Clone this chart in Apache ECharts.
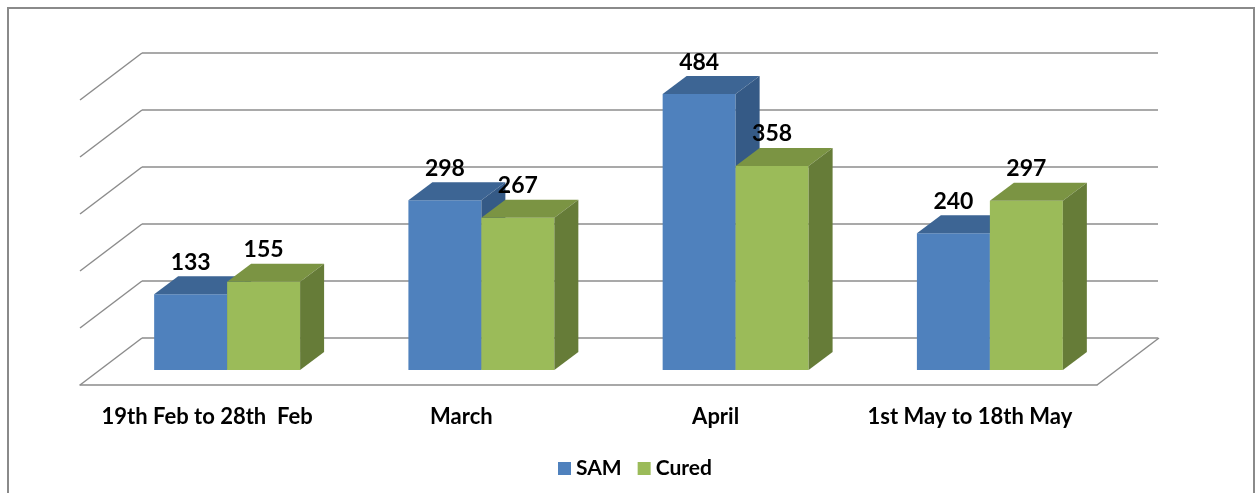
<!DOCTYPE html>
<html>
<head>
<meta charset="utf-8">
<script src="https://cdn.jsdelivr.net/npm/echarts@6/dist/echarts.min.js"></script>
<style>
  html, body { margin: 0; background: #fff; }
  #chart { width: 1257px; height: 493px; }
</style>
</head>
<body>
<div id="chart"></div>
<script>
// data
const categories = ['19th Feb to 28th  Feb', 'March', 'April', '1st May to 18th May'];
const seriesNames = ['SAM', 'Cured'];
const samValues = [133, 298, 484, 240];
const curedValues = [155, 267, 358, 297];
const gridValues = [0, 100, 200, 300, 400, 500];

const FONT = 'Lato';
const INK = '#000';
const GRID_LINE = '#8c8c8c';

// 3D look: floor depth front->back, and depth of each bar (pixels)
const DEPTH = [62, -47];
const BAR_DEPTH = [24, -18];
const BAR_FRAC = 0.287;

const FACES = [
  { front: '#4F81BD', top: '#3D6594', side: '#355A86' },
  { front: '#9BBB59', top: '#7B9443', side: '#667C38' },
];

const chart = echarts.init(document.getElementById('chart'), null, { renderer: 'canvas' });

const valueAxis = (gridIndex, split) => ({
  type: 'value', gridIndex, min: 0, max: 500, interval: 100,
  axisLine: { show: false }, axisTick: { show: false }, axisLabel: { show: false },
  splitLine: { show: split, lineStyle: { color: GRID_LINE, width: 1.5 } },
});

const hiddenCat = gridIndex => ({
  type: 'category', gridIndex, data: categories, show: false,
});

// side-wall obliques (and floor right edge) hang off the front floor grid
function sideWall(params, api) {
  const cs = params.coordSys;
  const y = api.coord([0, api.value(1)])[1];
  const lines = [{
    type: 'line',
    shape: { x1: cs.x, y1: y, x2: cs.x + DEPTH[0], y2: y + DEPTH[1] },
    style: { stroke: GRID_LINE, lineWidth: 1.5 },
  }];
  if (api.value(1) === 0) {
    const xr = cs.x + cs.width;
    lines.push({
      type: 'line',
      shape: { x1: xr, y1: y, x2: xr + DEPTH[0], y2: y + DEPTH[1] },
      style: { stroke: GRID_LINE, lineWidth: 1.5 },
    });
  }
  return { type: 'group', children: lines };
}

function bar3d(slot) {
  const f = FACES[slot];
  return (params, api) => {
    const idx = api.value(0), v = api.value(1);
    const top = api.coord([idx, v]);
    const base = api.coord([idx, 0]);
    const bw = api.size([1, 0])[0] * BAR_FRAC;
    const x0 = slot === 0 ? top[0] - bw : top[0];
    const x1 = x0 + bw;
    const [dx, dy] = BAR_DEPTH;
    return {
      type: 'group',
      children: [
        { type: 'rect', shape: { x: x0, y: top[1], width: bw, height: base[1] - top[1] }, style: { fill: f.front } },
        { type: 'polygon', shape: { points: [[x0, top[1]], [x0 + dx, top[1] + dy], [x1 + dx, top[1] + dy], [x1, top[1]]] }, style: { fill: f.top } },
        { type: 'polygon', shape: { points: [[x1, top[1]], [x1 + dx, top[1] + dy], [x1 + dx, base[1] + dy], [x1, base[1]]] }, style: { fill: f.side } },
        {
          type: 'text', x: x0 + bw / 2, y: top[1] - 32,
          style: { text: String(v), fill: INK, font: `bold 23px ${FONT}`, align: 'center', verticalAlign: 'middle' },
        },
      ],
    };
  };
}

chart.setOption({
  animation: false,
  textStyle: { fontFamily: FONT },
  graphic: [{
    type: 'rect', z: -10,
    shape: { x: 8, y: 8, width: 1246, height: 500 },
    style: { fill: 'none', stroke: '#8a8a8a', lineWidth: 2 },
  }],
  legend: {
    data: seriesNames,
    left: 553, top: 453,
    icon: 'rect', itemWidth: 13, itemHeight: 13, itemGap: 16,
    textStyle: { color: INK, fontSize: 21, fontWeight: 'bold', fontFamily: FONT },
  },
  grid: [
    { left: 142, top: 53, width: 1016, height: 285 },   // back wall
    { left: 80, top: 100, width: 1017, height: 285 },   // front of floor
    { left: 100, top: 85, width: 1017, height: 285 },   // bar front plane
  ],
  xAxis: [
    hiddenCat(0),
    {
      type: 'category', gridIndex: 1, data: categories,
      axisLine: { lineStyle: { color: GRID_LINE, width: 1.5 } },
      axisTick: { interval: 0, length: 7, lineStyle: { color: GRID_LINE, width: 1.5 } },
      axisLabel: { interval: 0, margin: 21, color: INK, fontSize: 22, fontWeight: 'bold', fontFamily: FONT },
    },
    hiddenCat(2),
  ],
  yAxis: [valueAxis(0, true), valueAxis(1, false), valueAxis(2, false)],
  series: [
    {
      type: 'custom', name: 'wall', xAxisIndex: 1, yAxisIndex: 1, z: 1,
      renderItem: sideWall, silent: true,
      data: gridValues.map(v => [0, v]),
    },
    {
      type: 'custom', name: seriesNames[0], xAxisIndex: 2, yAxisIndex: 2, z: 3,
      itemStyle: { color: FACES[0].front },
      renderItem: bar3d(0),
      data: samValues.map((v, i) => [i, v]),
    },
    {
      type: 'custom', name: seriesNames[1], xAxisIndex: 2, yAxisIndex: 2, z: 3,
      itemStyle: { color: FACES[1].front },
      renderItem: bar3d(1),
      data: curedValues.map((v, i) => [i, v]),
    },
  ],
});
</script>
</body>
</html>
